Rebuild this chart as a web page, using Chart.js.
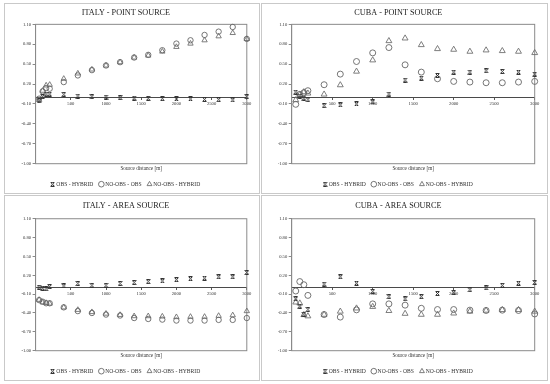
<!DOCTYPE html>
<html><head><meta charset="utf-8">
<script src="https://cdn.jsdelivr.net/npm/chart.js@4"></script>
<style>
html,body{margin:0;padding:0;background:#fff;width:550px;height:384px;overflow:hidden;position:relative}
.frame{position:absolute;border:1px solid #c9c9c9;box-sizing:border-box}
canvas{position:absolute}
</style></head><body>
<div class="frame" style="left:4px;top:3px;width:256px;height:191px"></div>
<div class="frame" style="left:261px;top:3px;width:287px;height:191px"></div>
<div class="frame" style="left:4px;top:195px;width:256px;height:186px"></div>
<div class="frame" style="left:261px;top:195px;width:287px;height:186px"></div>
<canvas id="c1" width="254" height="193" style="left:5px;top:4px"></canvas>
<canvas id="c2" width="285" height="193" style="left:262px;top:4px"></canvas>
<canvas id="c3" width="254" height="188" style="left:5px;top:196px"></canvas>
<canvas id="c4" width="285" height="188" style="left:262px;top:196px"></canvas>
<script>
// ---- data ----
const distances = [50,100,150,200,400,600,800,1000,1200,1400,1600,1800,2000,2200,2400,2600,2800,3000];
const seriesNames = ['OBS - HYBRID','NO-OBS - OBS','NO-OBS - HYBRID'];
const xTicks = [500,1000,1500,2000,2500,3000];
const yTicks = [-1.00,-0.70,-0.40,-0.10,0.20,0.50,0.80,1.10];

const italyPointObsHyb   = [-0.05,0.01,0.05,0.05,0.045,0.02,0.01,0.005,-0.005,-0.01,-0.015,-0.02,-0.025,-0.025,-0.03,-0.035,-0.04,0.01];
const italyPointNoObsObs = [-0.02,0.09,0.14,0.13,0.23,0.33,0.41,0.48,0.53,0.60,0.64,0.71,0.81,0.86,0.94,0.99,1.06,0.88];
const italyPointNoObsHyb = [-0.04,0.10,0.18,0.19,0.28,0.36,0.42,0.48,0.53,0.60,0.63,0.69,0.76,0.81,0.86,0.92,0.97,0.88];

const cubaPointObsHyb   = [0.08,0.02,-0.01,-0.035,-0.125,-0.115,-0.10,-0.07,0.05,0.26,0.29,0.33,0.38,0.38,0.40,0.39,0.38,0.35];
const cubaPointNoObsObs = [-0.105,0.045,0.07,0.10,0.19,0.35,0.54,0.67,0.75,0.49,0.38,0.28,0.24,0.23,0.22,0.22,0.23,0.24];
const cubaPointNoObsHyb = [-0.04,0.04,0.08,0.06,0.045,0.185,0.39,0.56,0.85,0.89,0.79,0.73,0.72,0.69,0.71,0.70,0.69,0.67];

const italyAreaObsHyb   = [0.01,-0.005,-0.015,0.02,0.03,0.07,0.04,0.04,0.07,0.085,0.10,0.11,0.13,0.145,0.155,0.175,0.175,0.245];
const italyAreaNoObsObs = [-0.195,-0.22,-0.245,-0.245,-0.31,-0.37,-0.40,-0.425,-0.44,-0.48,-0.495,-0.505,-0.52,-0.52,-0.52,-0.51,-0.51,-0.48];
const italyAreaNoObsHyb = [-0.19,-0.23,-0.24,-0.25,-0.31,-0.35,-0.385,-0.41,-0.43,-0.45,-0.45,-0.455,-0.465,-0.46,-0.46,-0.445,-0.435,-0.37];

const cubaAreaObsHyb   = [-0.175,-0.29,-0.42,-0.345,0.06,0.175,0.075,-0.055,-0.14,-0.175,-0.14,-0.09,-0.075,-0.03,0.0,0.04,0.075,0.085];
const cubaAreaNoObsObs = [-0.05,0.10,0.05,-0.12,-0.425,-0.465,-0.35,-0.255,-0.255,-0.275,-0.325,-0.345,-0.345,-0.355,-0.36,-0.355,-0.36,-0.415];
const cubaAreaNoObsHyb = [-0.23,-0.245,-0.43,-0.45,-0.425,-0.375,-0.325,-0.30,-0.365,-0.41,-0.425,-0.425,-0.405,-0.375,-0.36,-0.35,-0.35,-0.375];

// ---- styling ----
const FONT = "'Liberation Serif','Times New Roman',serif";
Chart.defaults.font.family = FONT;

function crossMarker(size, color){
  const c = document.createElement('canvas');
  c.width = size; c.height = size;
  const g = c.getContext('2d');
  g.strokeStyle = color; g.lineWidth = 1;
  const a = 0.5, b = size - 0.5;
  g.beginPath();
  g.moveTo(a,a); g.lineTo(b,b);
  g.moveTo(b,a); g.lineTo(a,b);
  g.moveTo(a+0.5,a); g.lineTo(b-0.5,a);
  g.moveTo(a+0.5,b); g.lineTo(b-0.5,b);
  g.stroke();
  return c;
}
const crossImg = crossMarker(5, '#333333');

const boxPlugin = {
  id: 'plotBox',
  beforeDatasetsDraw(chart){
    const {left, top, right, bottom} = chart.chartArea;
    const ctx = chart.ctx;
    ctx.save();
    ctx.strokeStyle = '#8a8a8a';
    ctx.lineWidth = 1;
    ctx.strokeRect(left, top, right - left, bottom - top);
    ctx.restore();
  }
};

function pts(vals){ return distances.map((d, i) => ({x: d, y: vals[i]})); }

function makeChart(id, title, s1, s2, s3, cfg){
  new Chart(document.getElementById(id), {
    type: 'scatter',
    data: {
      datasets: [
        {label: seriesNames[0], data: pts(s1), pointStyle: crossImg, borderColor: '#333333', backgroundColor: '#333333', clip: false},
        {label: seriesNames[1], data: pts(s2), pointStyle: 'circle', pointRadius: cfg.r, borderColor: '#666666', backgroundColor: 'rgba(0,0,0,0)', borderWidth: 0.9, clip: false},
        {label: seriesNames[2], data: pts(s3), pointStyle: 'triangle', pointRadius: cfg.r + 0.4, borderColor: '#707070', backgroundColor: 'rgba(0,0,0,0)', borderWidth: 0.9, clip: false}
      ]
    },
    options: {
      responsive: false, animation: false, devicePixelRatio: 1,
      layout: {padding: {left: 0, right: cfg.padR, top: 0, bottom: 0}},
      scales: {
        x: {
          type: 'linear', min: 0, max: 3000, position: {y: 0},
          afterBuildTicks: s => { s.ticks = xTicks.map(v => ({value: v})); },
          ticks: {font: {size: 4.6}, color: '#333', padding: 1.5, maxRotation: 0, autoSkip: false, callback: v => String(v)},
          grid: {drawOnChartArea: false, tickLength: 2, color: '#595959'},
          border: {color: '#4a4a4a', width: 1}
        },
        y: {
          type: 'linear', min: -1, max: 1.1,
          afterBuildTicks: s => { s.ticks = yTicks.map(v => ({value: v})); },
          afterFit: s => { s.width = cfg.yW; },
          ticks: {font: {size: 4.6}, color: '#333', padding: 1.5, callback: v => Number(v).toFixed(2)},
          grid: {drawOnChartArea: false, tickLength: 3, color: '#8a8a8a'},
          border: {color: '#8a8a8a'}
        }
      },
      plugins: {
        tooltip: {enabled: false},
        title: {display: true, text: title, color: '#222', font: {size: 8.2, weight: 'normal'}, padding: {top: cfg.tTop, bottom: cfg.tBot}},
        subtitle: {display: true, text: 'Source distance [m]', position: 'bottom', fullSize: false, weight: 500, color: '#333', font: {size: 5.2, lineHeight: 1}, padding: {top: 2.7, bottom: 2.8}},
        legend: {position: 'bottom', labels: {usePointStyle: true, boxWidth: 2, boxHeight: 4, padding: 7, color: '#333', font: {size: 5.6}}}
      }
    },
    plugins: [boxPlugin]
  });
}

makeChart('c1', 'ITALY - POINT SOURCE', italyPointObsHyb, italyPointNoObsObs, italyPointNoObsHyb, {yW: 30.6, padR: 12.2, tTop: 4.1, tBot: 6.4, r: 2.7});
makeChart('c2', 'CUBA - POINT SOURCE', cubaPointObsHyb, cubaPointNoObsObs, cubaPointNoObsHyb, {yW: 29.7, padR: 12.3, tTop: 4.1, tBot: 6.4, r: 3.0});
makeChart('c3', 'ITALY - AREA SOURCE', italyAreaObsHyb, italyAreaNoObsObs, italyAreaNoObsHyb, {yW: 30.6, padR: 12.2, tTop: 5.1, tBot: 7.8, r: 2.7});
makeChart('c4', 'CUBA - AREA SOURCE', cubaAreaObsHyb, cubaAreaNoObsObs, cubaAreaNoObsHyb, {yW: 29.7, padR: 12.3, tTop: 5.1, tBot: 7.8, r: 3.0});
</script>
</body></html>
